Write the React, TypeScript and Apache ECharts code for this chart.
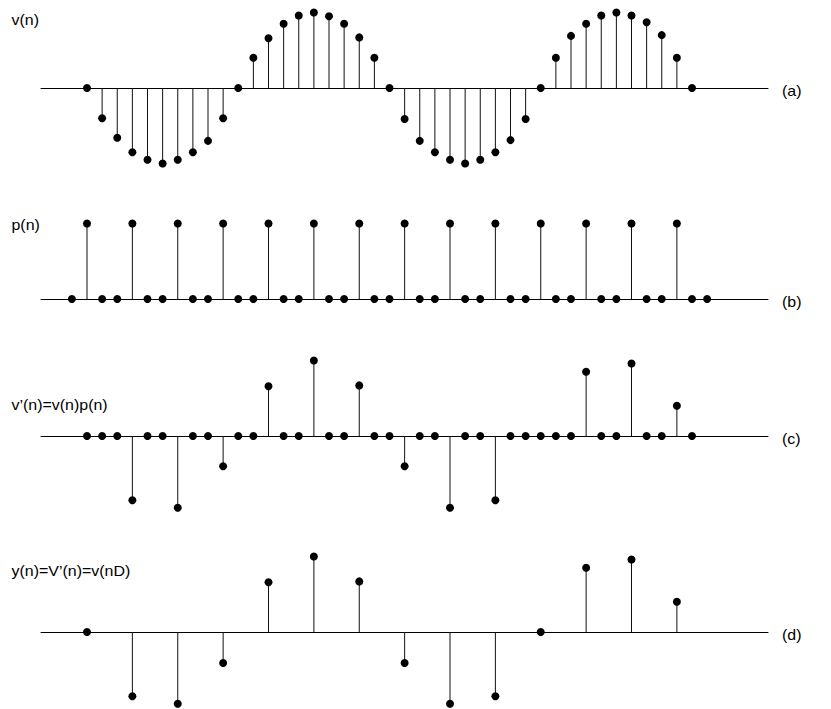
import React, { useEffect, useRef } from "react";
import * as echarts from "echarts";

// v(n), n = 0..40
const vN: number[] = [
  0, -0.40, -0.66, -0.85, -0.95, -1.0, -0.95, -0.85, -0.70, -0.40,
  0, 0.40, 0.66, 0.85, 0.96, 1.0, 0.95, 0.85, 0.67, 0.40,
  0, -0.41, -0.70, -0.85, -0.95, -1.0, -0.95, -0.85, -0.69, -0.41,
  0, 0.40, 0.69, 0.85, 0.96, 1.0, 0.96, 0.87, 0.70, 0.40, 0,
];

// p(n), n = -1..41
const pStart = -1;
const pN: number[] = [
  0,
  1, 0, 0, 1, 0, 0, 1, 0, 0, 1, 0, 0, 1, 0, 0,
  1, 0, 0, 1, 0, 0, 1, 0, 0, 1, 0, 0, 1, 0, 0,
  1, 0, 0, 1, 0, 0, 1, 0, 0, 1, 0, 0,
];

// v'(n) = v(n)p(n), n = 0..40
const vPrimeN: number[] = [
  0, 0, 0, -0.85, 0, 0, -0.95, 0, 0, -0.40,
  0, 0, 0.66, 0, 0, 1.0, 0, 0, 0.67, 0,
  0, -0.40, 0, 0, -0.95, 0, 0, -0.85, 0, 0,
  0, 0, 0, 0.85, 0, 0, 0.96, 0, 0, 0.40, 0,
];

// y(n) = v(nD), D = 3, n = 0..13
const D = 3;
const yN: number[] = [0, -0.85, -0.95, -0.41, 0.66, 1.0, 0.67, -0.41, -0.95, -0.85, 0, 0.85, 0.96, 0.40];

const panelTitles: string[] = ["v(n)", "p(n)", "v\u2019(n)=v(n)p(n)", "y(n)=V\u2019(n)=v(nD)"];
const panelTags: string[] = ["(a)", "(b)", "(c)", "(d)"];

// layout
const W = 831;
const H = 709;
const axisLeft = 41;
const axisRight = 768;
const n0Px = 87; // pixel of n = 0
const stepPx = 15.125; // pixels per sample
const unitPx = 75.5; // pixels per unit amplitude
const baselines = [88, 299, 436, 632];
const titleY = [19.5, 224.5, 405, 571];
const FONT = "'Liberation Sans', Arial, Helvetica, sans-serif";

export default function App() {
  const ref = useRef<HTMLDivElement>(null);

  useEffect(() => {
    if (!ref.current) return;
    const chart = echarts.init(ref.current, undefined, { renderer: "svg" });

    const xMinN = (axisLeft - n0Px) / stepPx;
    const xMaxN = (axisRight - n0Px) / stepPx;
    const yTop = 1.1;
    const yBottom = -1.0;

    const panels = [
      { data: vN.map((v, i) => [i, v]), scale: 1 },
      { data: pN.map((v, i) => [i + pStart, v]), scale: 1 },
      { data: vPrimeN.map((v, i) => [i, v]), scale: 1 },
      { data: yN.map((v, i) => [i, v]), scale: D },
    ];

    const grid = baselines.map((b) => ({
      left: axisLeft,
      width: axisRight - axisLeft,
      top: b - yTop * unitPx,
      height: (yTop - yBottom) * unitPx,
      containLabel: false,
    }));

    const xAxis = panels.map((p, i) => ({
      type: "value" as const,
      gridIndex: i,
      min: xMinN / p.scale,
      max: xMaxN / p.scale,
      axisLine: { show: true, onZero: true, lineStyle: { color: "#000", width: 1 } },
      axisTick: { show: false },
      axisLabel: { show: false },
      splitLine: { show: false },
    }));

    const yAxis = panels.map((_, i) => ({
      type: "value" as const,
      gridIndex: i,
      min: yBottom,
      max: yTop,
      axisLine: { show: false },
      axisTick: { show: false },
      axisLabel: { show: false },
      splitLine: { show: false },
    }));

    const series: any[] = [];
    panels.forEach((p, i) => {
      series.push({
        type: "bar",
        xAxisIndex: i,
        yAxisIndex: i,
        barWidth: 1,
        itemStyle: { color: "#111", opacity: 1 },
        data: p.data,
        silent: true,
        z: 2,
      });
      series.push({
        type: "scatter",
        xAxisIndex: i,
        yAxisIndex: i,
        symbol: "circle",
        symbolSize: 8,
        itemStyle: { color: "#000", opacity: 1 },
        data: p.data,
        silent: true,
        z: 3,
      });
    });

    const graphic: any[] = [];
    panelTitles.forEach((t, i) => {
      graphic.push({
        type: "text",
        x: 11.5,
        y: titleY[i],
        scaleX: 1.14,
        style: {
          text: t,
          fill: "#000",
          font: `14px ${FONT}`,
          textVerticalAlign: "middle",
          verticalAlign: "middle",
        },
      });
    });
    panelTags.forEach((t, i) => {
      graphic.push({
        type: "text",
        x: 782,
        y: baselines[i] + 2.5,
        scaleX: 1.14,
        style: {
          text: t,
          fill: "#000",
          font: `14px ${FONT}`,
          textVerticalAlign: "middle",
          verticalAlign: "middle",
        },
      });
    });

    chart.setOption({
      animation: false,
      backgroundColor: "#fff",
      grid,
      xAxis,
      yAxis,
      series,
      graphic,
    });

    return () => chart.dispose();
  }, []);

  return (
    <div
      ref={ref}
      style={{ position: "absolute", left: 0, top: 0, width: W, height: H }}
    />
  );
}
